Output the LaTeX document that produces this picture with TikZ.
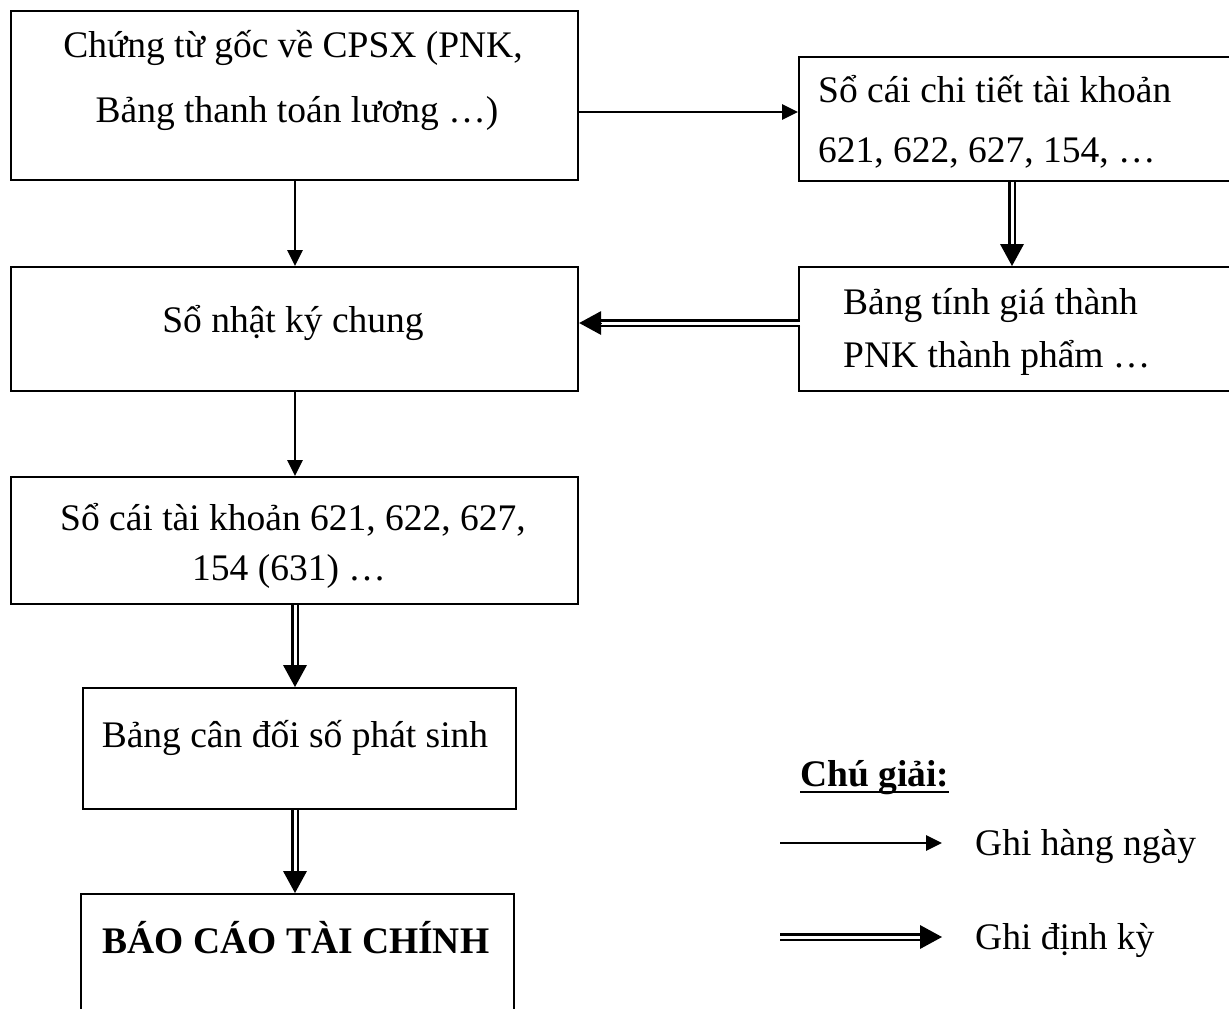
\documentclass[tikz,border=0pt]{standalone}
\usepackage{fontspec}
\setmainfont{Liberation Serif}
\usetikzlibrary{arrows.meta,calc}

\tikzset{
  box/.style={draw, line width=2.2pt, rectangle, inner sep=0pt, anchor=north west},
  txt/.style={inner sep=0pt, font=\fontsize{37.5}{45}\selectfont},
  single/.style={line width=2.8pt, -{Triangle[length=16pt,width=15pt]}},
  dblshaft/.style={double, line width=2.4pt, double distance=3pt},
  dbltip/.style={line width=0pt, -{Triangle[length=22pt,width=24pt]}},
}

\begin{document}
\begin{tikzpicture}[x=1pt,y=-1pt]
\useasboundingbox (0,0) rectangle (1229,1009);
\fill[white] (0,0) rectangle (1229,1009);

% boxes
\node[box, minimum width=567pt, minimum height=169pt] (A) at (10,10) {};
\node[box, minimum width=440pt, minimum height=124pt] (B) at (798,56) {};
\node[box, minimum width=440pt, minimum height=124pt] (C) at (798,266) {};
\node[box, minimum width=567pt, minimum height=124pt] (D) at (10,266) {};
\node[box, minimum width=567pt, minimum height=127pt] (E) at (10,476) {};
\node[box, minimum width=433pt, minimum height=121pt] (F) at (82,687) {};
\node[box, minimum width=433pt, minimum height=140pt] (G) at (80,893) {};

% box texts
\node[txt, anchor=base] (a1) at (293,57) {Chứng từ gốc về CPSX (PNK,};
\node[txt, anchor=base] (a2) at (297,122) {Bảng thanh toán lương …)};
\node[txt, anchor=base west] (b1) at (818,102) {Sổ cái chi tiết tài khoản};
\node[txt, anchor=base west] (b2) at (818,162) {621, 622, 627, 154, …};
\node[txt, anchor=base west] (c1) at (843,314) {Bảng tính giá thành};
\node[txt, anchor=base west] (c2) at (843,367) {PNK thành phẩm …};
\node[txt, anchor=base] (d1) at (293,332) {Sổ nhật ký chung};
\node[txt, anchor=base] (e1) at (293,530) {Sổ cái tài khoản 621, 622, 627,};
\node[txt, anchor=base] (e2) at (289,580) {154 (631) …};
\node[txt, anchor=base] (f1) at (295,747) {Bảng cân đối số phát sinh};
\node[txt, anchor=base, font=\fontsize{37.5}{45}\selectfont\bfseries] (g1) at (296,953) {BÁO CÁO TÀI CHÍNH};

% connector columns and rows
\coordinate (col) at (295,0);
\coordinate (colB) at (1012,0);
\coordinate (rowAB) at (0,112);
\coordinate (rowCD) at (0,323);

% daily postings
\draw[single] (rowAB -| A.east) -- (rowAB -| B.west);
\draw[single] (col |- A.south) -- (col |- D.north);
\draw[single] (col |- D.south) -- (col |- E.north);

% periodic postings
\draw[dblshaft] (colB |- B.south) -- ($(colB |- C.north)+(0,-20)$);
\draw[dbltip] ($(colB |- C.north)+(0,-22)$) -- (colB |- C.north);

\draw[dblshaft] ($(rowCD -| C.west)+(2,0)$) -- ($(rowCD -| D.east)+(20,0)$);
\draw[dbltip] ($(rowCD -| D.east)+(22,0)$) -- (rowCD -| D.east);

\draw[dblshaft] (col |- E.south) -- ($(col |- F.north)+(0,-20)$);
\draw[dbltip] ($(col |- F.north)+(0,-22)$) -- (col |- F.north);

\draw[dblshaft] (col |- F.south) -- ($(col |- G.north)+(0,-20)$);
\draw[dbltip] ($(col |- G.north)+(0,-22)$) -- (col |- G.north);

% legend
\node[txt, anchor=base west, font=\fontsize{37.5}{45}\selectfont\bfseries] (leg) at (800,786) {Chú giải:};
\draw[line width=2.5pt] ([yshift=-6pt]leg.base west) -- ([yshift=-6pt]leg.base east);

\coordinate (l1s) at (780,843);
\coordinate (l1e) at (942,843);
\coordinate (l2s) at (780,937);
\coordinate (l2e) at (942,937);
\draw[single] (l1s) -- (l1e);
\draw[dblshaft] (l2s) -- ($(l2e)+(-20,0)$);
\draw[dbltip] ($(l2e)+(-22,0)$) -- (l2e);
\node[txt, anchor=base west] (daily) at (975,855) {Ghi hàng ngày};
\node[txt, anchor=base west] (periodic) at (975,949) {Ghi định kỳ};
\end{tikzpicture}
\end{document}
